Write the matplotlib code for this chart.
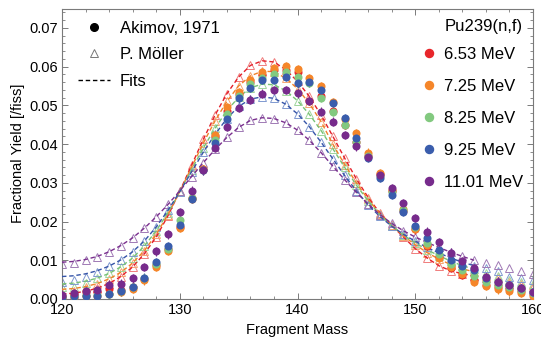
import numpy as np
import matplotlib
matplotlib.use("Agg")
import matplotlib.pyplot as plt
from matplotlib.lines import Line2D
from matplotlib.ticker import MultipleLocator, FormatStrFormatter

plt.rcParams['font.family'] = ['Liberation Sans', 'DejaVu Sans']

# fragment masses
mass = list(range(120, 161))
fit_mass = list(range(120, 156))

energies = ["6.53 MeV", "7.25 MeV", "8.25 MeV", "9.25 MeV", "11.01 MeV"]

# Akimov, 1971 measured yields (masses 120..160)
akimov = {
    "6.53 MeV": [0.0009, 0.0014, 0.0017, 0.0019, 0.0025, 0.0022, 0.0030, 0.0052, 0.0088, 0.0130,
                 0.0187, 0.0262, 0.0336, 0.0422, 0.0485, 0.0530, 0.0560, 0.0578, 0.0590, 0.0590,
                 0.0585, 0.0512, 0.0525, 0.0485, 0.0450, 0.0405, 0.0370, 0.0322, 0.0278, 0.0228,
                 0.0180, 0.0138, 0.0108, 0.0080, 0.0063, 0.0048, 0.0036, 0.0030, 0.0025, 0.0020,
                 0.0012],
    "7.25 MeV": [0.0006, 0.0008, 0.0008, 0.0009, 0.0013, 0.0018, 0.0027, 0.0048, 0.0083, 0.0125,
                 0.0183, 0.0258, 0.0335, 0.0424, 0.0495, 0.0535, 0.0565, 0.0585, 0.0596, 0.0602,
                 0.0594, 0.0570, 0.0550, 0.0508, 0.0465, 0.0428, 0.0378, 0.0325, 0.0282, 0.0232,
                 0.0182, 0.0140, 0.0107, 0.0082, 0.0065, 0.0045, 0.0033, 0.0025, 0.0020, 0.0016,
                 0.0008],
    "8.25 MeV": [0.0007, 0.0009, 0.0010, 0.0010, 0.0014, 0.0020, 0.0030, 0.0053, 0.0090, 0.0130,
                 0.0203, 0.0262, 0.0334, 0.0410, 0.0478, 0.0525, 0.0555, 0.0570, 0.0580, 0.0585,
                 0.0572, 0.0558, 0.0519, 0.0484, 0.0450, 0.0405, 0.0368, 0.0318, 0.0276, 0.0230,
                 0.0185, 0.0145, 0.0115, 0.0090, 0.0075, 0.0060, 0.0044, 0.0036, 0.0030, 0.0024,
                 0.0015],
    "9.25 MeV": [0.0005, 0.0007, 0.0009, 0.0009, 0.0013, 0.0020, 0.0030, 0.0055, 0.0096, 0.0136,
                 0.0190, 0.0258, 0.0332, 0.0402, 0.0466, 0.0518, 0.0545, 0.0565, 0.0566, 0.0574,
                 0.0557, 0.0559, 0.0540, 0.0506, 0.0467, 0.0415, 0.0364, 0.0312, 0.0269, 0.0224,
                 0.0189, 0.0157, 0.0126, 0.0101, 0.0085, 0.0075, 0.0055, 0.0045, 0.0035, 0.0028,
                 0.0018],
    "11.01 MeV": [0.0010, 0.0016, 0.0020, 0.0022, 0.0037, 0.0040, 0.0053, 0.0082, 0.0123, 0.0167,
                  0.0224, 0.0280, 0.0332, 0.0390, 0.0444, 0.0493, 0.0515, 0.0530, 0.0540, 0.0540,
                  0.0531, 0.0512, 0.0484, 0.0458, 0.0424, 0.0394, 0.0366, 0.0320, 0.0287, 0.0248,
                  0.0209, 0.0174, 0.0146, 0.0120, 0.0098, 0.0080, 0.0056, 0.0045, 0.0036, 0.0028,
                  0.0018],
}
akimov_err = 0.0011

# P. Moller model yields (masses 120..160)
moller = {
    "6.53 MeV": [0.0011, 0.0012, 0.0019, 0.0028, 0.0040, 0.0058, 0.0083, 0.0117, 0.0160, 0.0215,
                 0.0278, 0.0345, 0.0412, 0.0475, 0.0530, 0.0573, 0.0603, 0.0615, 0.0612, 0.0592,
                 0.0562, 0.0523, 0.0475, 0.0420, 0.0364, 0.0310, 0.0262, 0.0222, 0.0190, 0.0160,
                 0.0130, 0.0106, 0.0086, 0.0073, 0.0065, 0.0060, 0.0054, 0.0047, 0.0040, 0.0035,
                 0.0030],
    "7.25 MeV": [0.0016, 0.0020, 0.0030, 0.0040, 0.0052, 0.0069, 0.0093, 0.0125, 0.0167, 0.0218,
                 0.0277, 0.0340, 0.0403, 0.0460, 0.0510, 0.0550, 0.0576, 0.0588, 0.0587, 0.0570,
                 0.0543, 0.0505, 0.0458, 0.0400, 0.0347, 0.0300, 0.0257, 0.0220, 0.0190, 0.0163,
                 0.0140, 0.0120, 0.0103, 0.0089, 0.0078, 0.0070, 0.0060, 0.0053, 0.0044, 0.0040,
                 0.0035],
    "8.25 MeV": [0.0030, 0.0032, 0.0042, 0.0054, 0.0066, 0.0083, 0.0106, 0.0137, 0.0176, 0.0223,
                 0.0277, 0.0334, 0.0390, 0.0441, 0.0486, 0.0521, 0.0545, 0.0555, 0.0553, 0.0538,
                 0.0512, 0.0477, 0.0435, 0.0388, 0.0340, 0.0294, 0.0253, 0.0218, 0.0189, 0.0165,
                 0.0145, 0.0127, 0.0112, 0.0098, 0.0086, 0.0077, 0.0068, 0.0060, 0.0050, 0.0045,
                 0.0040],
    "9.25 MeV": [0.0045, 0.0049, 0.0058, 0.0070, 0.0085, 0.0101, 0.0122, 0.0150, 0.0186, 0.0229,
                 0.0277, 0.0328, 0.0379, 0.0425, 0.0466, 0.0497, 0.0516, 0.0522, 0.0518, 0.0503,
                 0.0478, 0.0445, 0.0405, 0.0362, 0.0319, 0.0279, 0.0243, 0.0213, 0.0188, 0.0167,
                 0.0149, 0.0133, 0.0119, 0.0106, 0.0095, 0.0086, 0.0080, 0.0071, 0.0058, 0.0054,
                 0.0049],
    "11.01 MeV": [0.0091, 0.0094, 0.0101, 0.0108, 0.0122, 0.0138, 0.0158, 0.0183, 0.0212, 0.0244,
                  0.0279, 0.0316, 0.0352, 0.0386, 0.0417, 0.0443, 0.0461, 0.0468, 0.0466, 0.0455,
                  0.0436, 0.0410, 0.0378, 0.0343, 0.0308, 0.0275, 0.0245, 0.0218, 0.0195, 0.0176,
                  0.0160, 0.0146, 0.0133, 0.0121, 0.0110, 0.0100, 0.0093, 0.0088, 0.0079, 0.0071,
                  0.0064],
}

# fitted curves (masses 120..155)
fits = {
    "6.53 MeV": [0.0013, 0.0015, 0.0020, 0.0028, 0.0040, 0.0058, 0.0083, 0.0117, 0.0160, 0.0215,
                 0.0278, 0.0345, 0.0412, 0.0475, 0.0530, 0.0573, 0.0603, 0.0615, 0.0612, 0.0592,
                 0.0562, 0.0523, 0.0475, 0.0420, 0.0364, 0.0310, 0.0262, 0.0222, 0.0190, 0.0160,
                 0.0130, 0.0106, 0.0086, 0.0073, 0.0065, 0.0060],
    "7.25 MeV": [0.0025, 0.0027, 0.0032, 0.0040, 0.0052, 0.0069, 0.0093, 0.0125, 0.0167, 0.0218,
                 0.0277, 0.0340, 0.0403, 0.0460, 0.0510, 0.0550, 0.0576, 0.0588, 0.0587, 0.0570,
                 0.0543, 0.0505, 0.0458, 0.0400, 0.0347, 0.0300, 0.0257, 0.0220, 0.0190, 0.0163,
                 0.0140, 0.0120, 0.0103, 0.0089, 0.0078, 0.0070],
    "8.25 MeV": [0.0039, 0.0041, 0.0046, 0.0054, 0.0066, 0.0083, 0.0106, 0.0137, 0.0176, 0.0223,
                 0.0277, 0.0334, 0.0390, 0.0441, 0.0486, 0.0521, 0.0545, 0.0555, 0.0553, 0.0538,
                 0.0512, 0.0477, 0.0435, 0.0388, 0.0340, 0.0294, 0.0253, 0.0218, 0.0189, 0.0165,
                 0.0145, 0.0127, 0.0112, 0.0098, 0.0086, 0.0077],
    "9.25 MeV": [0.0058, 0.0060, 0.0065, 0.0073, 0.0085, 0.0101, 0.0122, 0.0150, 0.0186, 0.0229,
                 0.0277, 0.0328, 0.0379, 0.0425, 0.0466, 0.0497, 0.0516, 0.0522, 0.0518, 0.0503,
                 0.0478, 0.0445, 0.0405, 0.0362, 0.0319, 0.0279, 0.0243, 0.0213, 0.0188, 0.0167,
                 0.0149, 0.0133, 0.0119, 0.0106, 0.0095, 0.0086],
    "11.01 MeV": [0.0095, 0.0097, 0.0102, 0.0110, 0.0122, 0.0138, 0.0158, 0.0183, 0.0212, 0.0244,
                  0.0279, 0.0316, 0.0352, 0.0386, 0.0417, 0.0443, 0.0461, 0.0468, 0.0466, 0.0455,
                  0.0436, 0.0410, 0.0378, 0.0343, 0.0308, 0.0275, 0.0245, 0.0218, 0.0195, 0.0176,
                  0.0160, 0.0146, 0.0133, 0.0121, 0.0110, 0.0100],
}

dot_colors = {"6.53 MeV": "#e8262b", "7.25 MeV": "#f5862a", "8.25 MeV": "#82c97f",
              "9.25 MeV": "#3a5dac", "11.01 MeV": "#772b8c"}
tri_colors = {"6.53 MeV": "#f07c7c", "7.25 MeV": "#f4a672", "8.25 MeV": "#9fd59c",
              "9.25 MeV": "#8099d0", "11.01 MeV": "#a07ab5"}
line_colors = {"6.53 MeV": "#e4202a", "7.25 MeV": "#f0822a", "8.25 MeV": "#78c275",
               "9.25 MeV": "#3554a8", "11.01 MeV": "#7a2f8e"}

fig = plt.figure(figsize=(5.41, 3.43), dpi=100)
ax = fig.add_axes([62/541, 1 - 299/343, 471/541, 290.5/343])

for e in energies:
    ax.plot(mass, moller[e], linestyle="none", marker="^", markersize=5.5,
            markerfacecolor="none", markeredgecolor=tri_colors[e], markeredgewidth=0.7, zorder=2)
    ax.plot(fit_mass, fits[e], linestyle=(0, (3.2, 2)), color=line_colors[e], linewidth=1.0, zorder=3)

for e in energies:
    ax.errorbar(mass, akimov[e], yerr=akimov_err, fmt="o", markersize=5.8,
                color=dot_colors[e], markeredgewidth=0, elinewidth=0.8, capsize=1.5,
                capthick=0.8, zorder=4)

ax.set_xlim(120, 160)
ax.set_ylim(0, 0.075)
ax.xaxis.set_major_locator(MultipleLocator(10))
ax.xaxis.set_minor_locator(MultipleLocator(2))
ax.yaxis.set_major_locator(MultipleLocator(0.01))
ax.yaxis.set_minor_locator(MultipleLocator(0.002))
ax.yaxis.set_major_formatter(FormatStrFormatter("%.2f"))
ax.tick_params(which="both", direction="in", top=True, right=True, color="#7a7a7a",
               labelsize=10.5, pad=3)
ax.tick_params(which="major", length=4.5, width=0.7)
ax.tick_params(which="minor", length=2.5, width=0.6)
for sp in ax.spines.values():
    sp.set_color("#7a7a7a")
    sp.set_linewidth(0.8)

ax.set_xlabel("Fragment Mass", fontsize=10.5, labelpad=4)
ax.set_ylabel("Fractional Yield [/fiss]", fontsize=10.5, labelpad=3)

# legend for data sources
src_handles = [
    Line2D([], [], linestyle="none", marker="o", markersize=5.5, color="black"),
    Line2D([], [], linestyle="none", marker="^", markersize=5.5, markerfacecolor="none",
           markeredgecolor="#777777", markeredgewidth=0.7),
    Line2D([], [], linestyle=(0, (3.2, 2)), color="black", linewidth=1.0),
]
leg1 = ax.legend(src_handles, ["Akimov, 1971", "P. Möller", "Fits"], loc="upper left",
                 bbox_to_anchor=(0.034, 0.957), frameon=False, fontsize=12,
                 handlelength=1.9, handletextpad=0.6, labelspacing=0.68,
                 borderpad=0, borderaxespad=0)
ax.add_artist(leg1)

e_handles = [Line2D([], [], linestyle="none", marker="o", markersize=5.8, color=dot_colors[e])
             for e in energies]
ax.legend(e_handles, energies, loc="upper left", bbox_to_anchor=(0.766, 0.869),
          frameon=False, fontsize=12, handlelength=0.8, handletextpad=0.5,
          labelspacing=1.02, borderpad=0, borderaxespad=0)

ax.text(0.979, 0.937, "Pu239(n,f)", transform=ax.transAxes, ha="right", va="center", fontsize=12)

plt.savefig("out.png", dpi=100)
